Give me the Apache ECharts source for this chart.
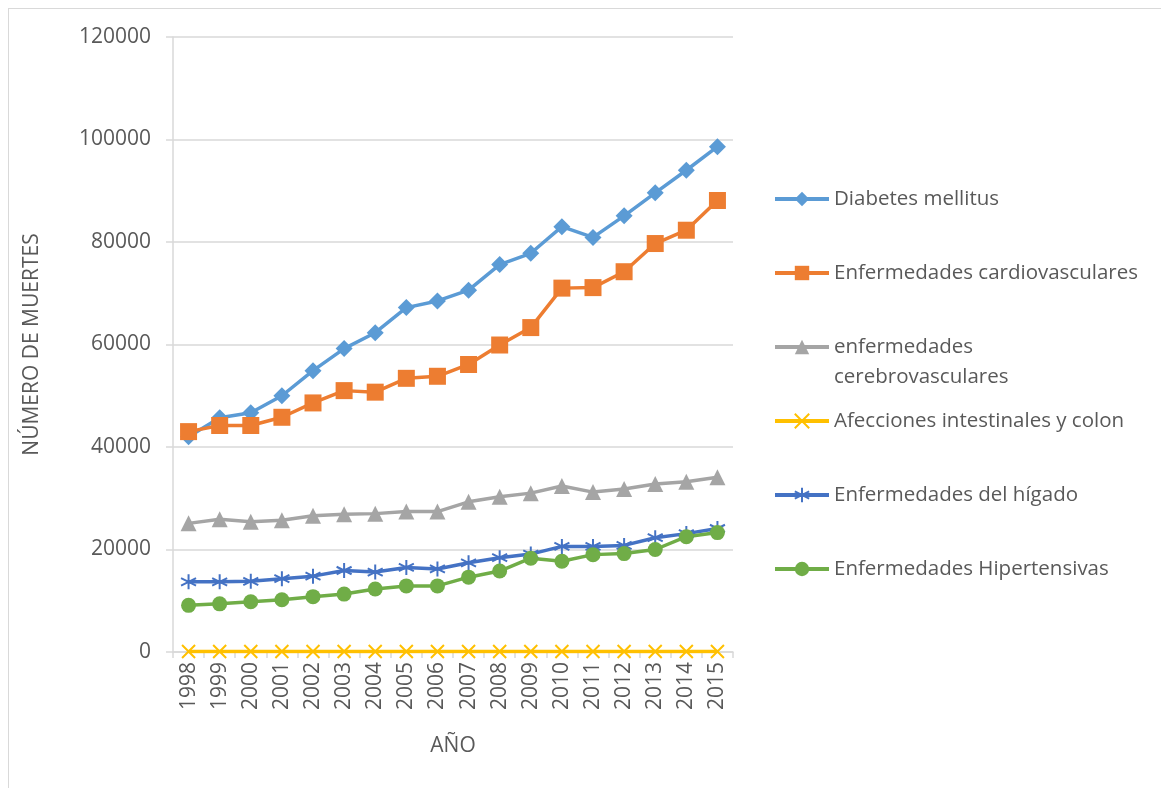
<!DOCTYPE html>
<html>
<head>
<meta charset="utf-8">
<script src="https://cdn.jsdelivr.net/npm/echarts@6/dist/echarts.min.js"></script>
<style>
html,body{margin:0;padding:0;background:#fff;}
#frame{position:absolute;left:8px;top:8px;width:1153px;height:780px;border-top:1px solid #D9D9D9;border-left:1px solid #D9D9D9;}
#chart{position:absolute;left:0;top:0;width:1161px;height:788px;}
</style>
</head>
<body>
<div id="frame"></div>
<div id="chart"></div>
<script>
const years = ['1998','1999','2000','2001','2002','2003','2004','2005','2006','2007','2008','2009','2010','2011','2012','2013','2014','2015'];
const yTicks = [0, 20000, 40000, 60000, 80000, 100000, 120000];

const diabetes = [42000,45700,46700,50000,54900,59200,62300,67200,68500,70600,75600,77800,83000,80900,85100,89600,94000,98600];
const cardio = [43000,44200,44200,45800,48600,51000,50700,53400,53800,56100,59900,63300,71000,71100,74200,79700,82300,88100];
const cerebro = [25100,25900,25400,25700,26600,26900,27000,27400,27400,29300,30300,31000,32400,31200,31800,32800,33200,34100];
const afecciones = [100,100,100,100,100,100,100,100,100,100,100,100,100,100,100,100,100,100];
const higado = [13700,13700,13800,14300,14800,15900,15600,16500,16200,17400,18400,19100,20600,20600,20800,22300,23100,24100];
const hipertensivas = [9100,9400,9800,10200,10800,11300,12300,12900,12900,14600,15800,18300,17700,19000,19200,20000,22500,23300];

const names = ['Diabetes mellitus','Enfermedades cardiovasculares','enfermedades cerebrovasculares','Afecciones intestinales y colon','Enfermedades del hígado','Enfermedades Hipertensivas'];
const colors = ['#5B9BD5','#ED7D31','#A5A5A5','#FFC000','#4472C4','#70AD47'];

const FONT = 'Open Sans';
const TXT = '#595959';
const AX_FS = 21;
const LG_FS = 20.5;

const chart = echarts.init(document.getElementById('chart'));

function mkSeries(i, data, symbol, size, stroked) {
  return {
    name: names[i],
    type: 'line',
    data: data,
    symbol: symbol,
    symbolSize: size,
    showSymbol: true,
    lineStyle: { color: colors[i], width: 3.5 },
    itemStyle: stroked
      ? { color: 'rgba(0,0,0,0)', borderColor: colors[i], borderWidth: 2 }
      : { color: colors[i], borderWidth: 0 },
    emphasis: { disabled: true },
    animation: false
  };
}

const legendCenters = [199, 273, 347, 421, 495, 569];
const legends = names.map((n, i) => {
  const multi = (i === 2);
  return {
    data: [n],
    left: 773,
    top: multi ? legendCenters[i] - 45 : legendCenters[i] - 12,
    orient: 'vertical',
    padding: 0,
    itemWidth: 54,
    itemHeight: 18,
    selectedMode: false,
    lineStyle: { width: 4 },
    formatter: multi ? '\nenfermedades\ncerebrovasculares' : '{name}',
    textStyle: multi
      ? { fontFamily: FONT, fontSize: LG_FS, color: TXT, lineHeight: 30 }
      : { fontFamily: FONT, fontSize: LG_FS, color: TXT, lineHeight: 24 }
  };
});

chart.setOption({
  animation: false,
  textStyle: { fontFamily: FONT },
  grid: { left: 173, right: 428, top: 37, bottom: 136, containLabel: false },
  legend: legends,
  xAxis: {
    type: 'category',
    data: years,
    boundaryGap: true,
    name: 'AÑO',
    nameLocation: 'middle',
    nameGap: 84,
    nameTextStyle: { fontFamily: FONT, fontSize: AX_FS, color: TXT },
    axisLine: { show: true, lineStyle: { color: '#D9D9D9', width: 1.5 } },
    axisTick: { show: true, length: 6, lineStyle: { color: '#D9D9D9', width: 1.5 } },
    axisLabel: { rotate: 90, margin: 10, fontFamily: FONT, fontSize: AX_FS, color: TXT, interval: 0 },
    splitLine: { show: false }
  },
  yAxis: {
    type: 'value',
    min: 0,
    max: 120000,
    interval: 20000,
    name: 'NÚMERO DE MUERTES',
    nameLocation: 'middle',
    nameGap: 130,
    nameTextStyle: { fontFamily: FONT, fontSize: AX_FS, color: TXT },
    axisLine: { show: true, lineStyle: { color: '#D9D9D9', width: 1.5 } },
    axisTick: { show: true, length: 7, lineStyle: { color: '#D9D9D9', width: 1.5 } },
    axisLabel: { margin: 22, fontFamily: FONT, fontSize: AX_FS, color: TXT,
      formatter: v => yTicks.indexOf(v) >= 0 ? String(v) : '' },
    splitLine: { show: true, lineStyle: { color: '#D9D9D9', width: 1.5 } }
  },
  series: [
    mkSeries(0, diabetes, 'diamond', 17, false),
    mkSeries(1, cardio, 'rect', 17, false),
    mkSeries(2, cerebro, 'triangle', 16, false),
    mkSeries(3, afecciones, 'path://M0,0L10,10M0,10L10,0', 13, true),
    mkSeries(4, higado, 'path://M5,0L5,10M0.7,2.5L9.3,7.5M0.7,7.5L9.3,2.5', 15, true),
    mkSeries(5, hipertensivas, 'circle', 15, false)
  ]
});
</script>
</body>
</html>
